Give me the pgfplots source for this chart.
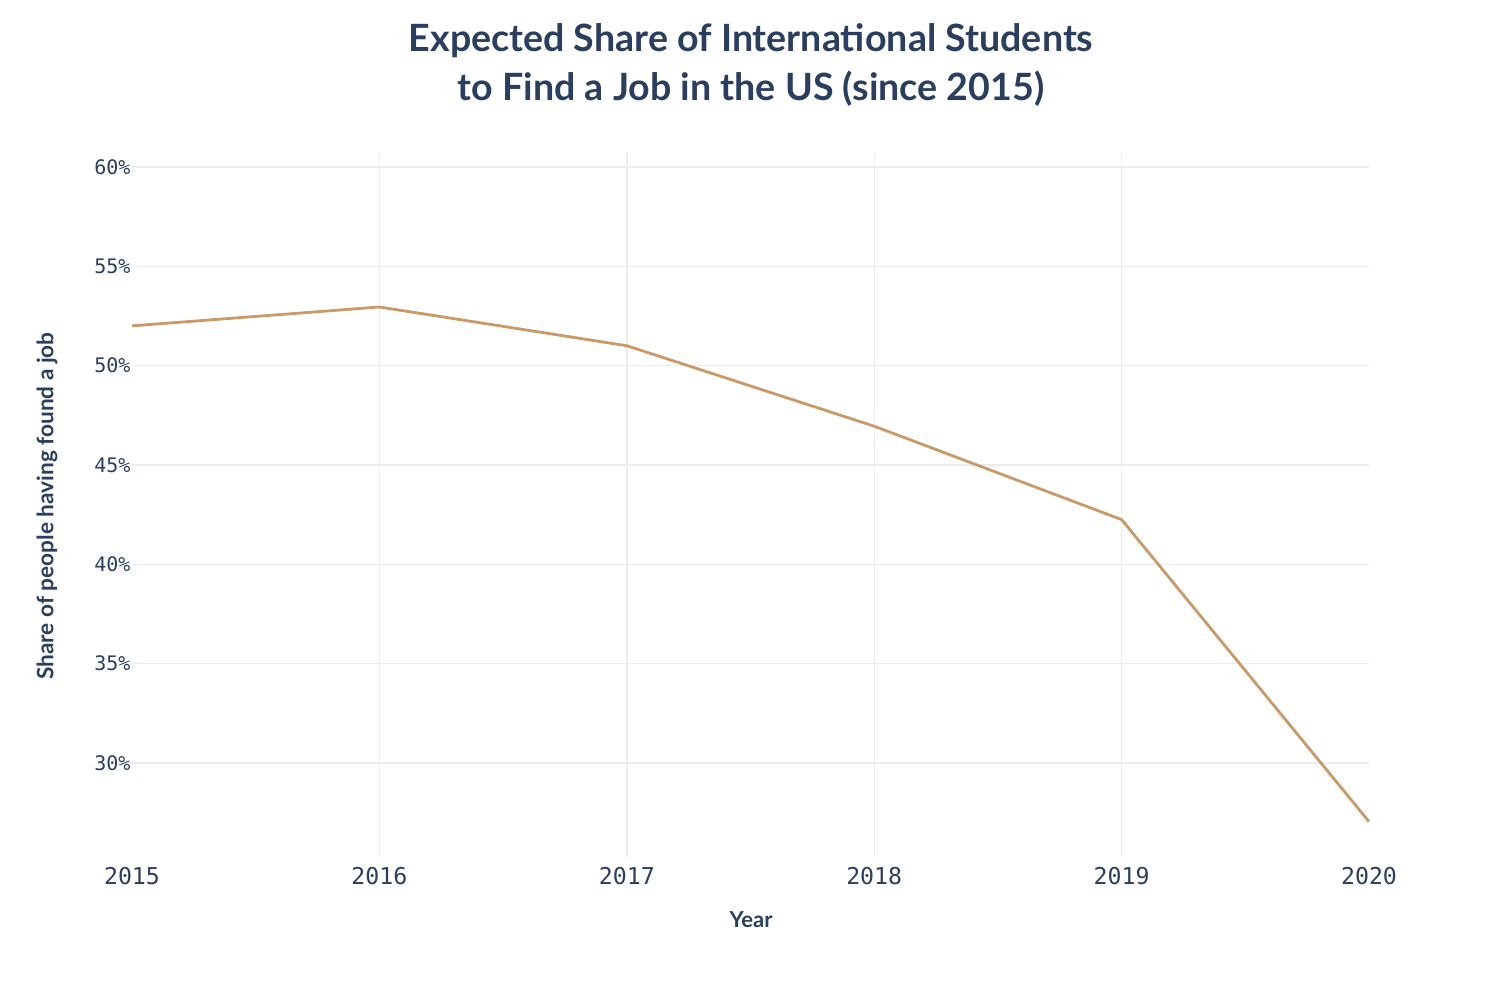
\documentclass[border=0pt]{standalone}
\usepackage{pgfplots}
\pgfplotsset{compat=1.18}
\usepackage{fontspec}
\setmainfont{Lato}
\newfontfamily\monofont{DejaVu Sans Mono}
\newfontfamily\titlefont{Lato}
\definecolor{txt}{HTML}{2A3F5F}
\definecolor{grid}{HTML}{EBEBF0}
\definecolor{line}{RGB}{203,153,104}
\begin{document}
\begin{tikzpicture}[x=0.5pt,y=0.5pt]
\path[use as bounding box] (0,0) rectangle (1494,982);
\begin{axis}[
  at={(66pt,62.5pt)}, anchor=south west,
  scale only axis, width=618.5pt, height=352pt,
  xmin=2015, xmax=2020, ymin=25.27, ymax=60.7,
  axis line style={draw=none},
  major tick style={draw=none},
  xtick={2016,2017,2018,2019},
  xticklabels={2016,2017,2018,2019},
  extra x ticks={2015,2020},
  extra x tick labels={2015,2020},
  extra x tick style={grid=none},
  ytick={30,35,40,45,50,55,60},
  yticklabel={\pgfmathprintnumber{\tick}\%},
  /pgf/number format/assume math mode=true,
  xticklabel style={font=\monofont\fontsize{11.6}{12}\selectfont, text=txt, yshift=-1.8pt},
  yticklabel style={font=\monofont\fontsize{10}{12}\selectfont, text=txt, xshift=2.8pt},
  grid=major,
  major grid style={draw=grid, line width=0.7pt},
  clip=false,
]
\addplot[line, line width=1.4pt] coordinates {
  (2015,52.0) (2016,52.95) (2017,51.0) (2018,46.95) (2019,42.25) (2020,27.05)
};
\end{axis}
\node[text=txt, font=\titlefont\bfseries\fontsize{18.8}{22}\selectfont, align=center] at (751,941) {Expected Share of International Students};
\node[text=txt, font=\titlefont\bfseries\fontsize{18.8}{22}\selectfont, align=center] at (751,893) {to Find a Job in the US (since 2015)};
\node[text=txt, font=\bfseries\fontsize{11}{12}\selectfont] at (751,62) {Year};
\node[text=txt, font=\bfseries\fontsize{11.3}{12}\selectfont, rotate=90] at (47,476) {Share of people having found a job};
\end{tikzpicture}
\end{document}
